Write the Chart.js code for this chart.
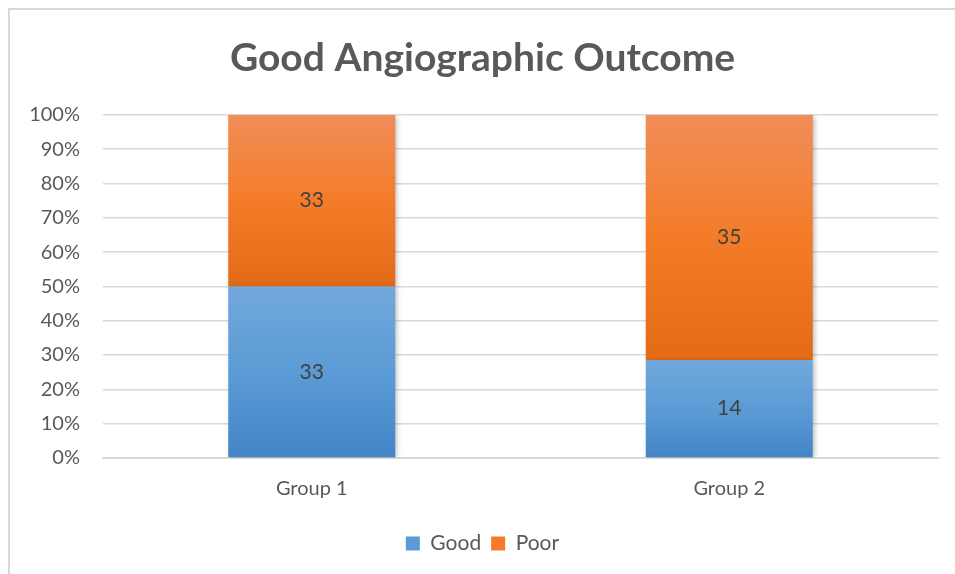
<!DOCTYPE html>
<html>
<head>
<meta charset="utf-8">
<script src="https://cdn.jsdelivr.net/npm/chart.js@4.4.1/dist/chart.umd.min.js"></script>
<style>
  html, body { margin: 0; padding: 0; background: #fff; }
  .frame {
    position: absolute; left: 8px; top: 8px;
    width: 945px; height: 564px;
    border-top: 2px solid #d9d9d9; border-left: 2px solid #d9d9d9;
  }
  canvas { display: block; }
</style>
</head>
<body>
<div class="frame"><canvas id="outcome" width="945" height="564"></canvas></div>
<script>
const categories = ["Group 1", "Group 2"];
const goodCounts = [33, 14];
const poorCounts = [33, 35];

// share of each group, so both bars run to 100%
const goodPct = goodCounts.map((g, i) => g / (g + poorCounts[i]) * 100);
const poorPct = poorCounts.map((p, i) => p / (goodCounts[i] + p) * 100);

const blueStops = ["#72a8dc", "#5b9bd5", "#4384c7"];
const orangeStops = ["#f08d59", "#f47c28", "#e36a16"];

const textGray = "#595959";
const font = "Lato, 'Open Sans', sans-serif";

// each segment gets its own top-to-bottom gradient
function segmentFill(stops, lower) {
  return function (ctx) {
    const chart = ctx.chart;
    const y = chart.scales.y;
    if (!y || ctx.dataIndex == null) return stops[1];
    const i = ctx.dataIndex;
    const top = y.getPixelForValue(lower ? goodPct[i] : 100);
    const bottom = y.getPixelForValue(lower ? 0 : goodPct[i]);
    if (!isFinite(top) || !isFinite(bottom) || top === bottom) return stops[1];
    const g = chart.ctx.createLinearGradient(0, top, 0, bottom);
    g.addColorStop(0, stops[0]);
    g.addColorStop(0.5, stops[1]);
    g.addColorStop(1, stops[2]);
    return g;
  };
}

const barShadow = {
  id: "barShadow",
  beforeDatasetsDraw(chart) {
    const c = chart.ctx;
    c.save();
    c.shadowColor = "rgba(0,0,0,0.28)";
    c.shadowBlur = 5;
    c.shadowOffsetX = 2;
    c.shadowOffsetY = 1;
  },
  afterDatasetsDraw(chart) {
    chart.ctx.restore();
  }
};

// counts written in the middle of each segment
const countLabels = {
  id: "countLabels",
  afterDraw(chart) {
    const c = chart.ctx;
    c.save();
    c.font = "21px " + font;
    c.fillStyle = "#404040";
    c.textAlign = "center";
    c.textBaseline = "middle";
    chart.data.datasets.forEach((ds, d) => {
      chart.getDatasetMeta(d).data.forEach((bar, i) => {
        const p = bar.getCenterPoint();
        c.fillText(String(ds.counts[i]), p.x, p.y);
      });
    });
    c.restore();
  }
};

new Chart(document.getElementById("outcome"), {
  type: "bar",
  data: {
    labels: categories,
    datasets: [
      {
        label: "Good",
        data: goodPct,
        counts: goodCounts,
        backgroundColor: segmentFill(blueStops, true),
        legendColor: blueStops[1],
        borderWidth: 0
      },
      {
        label: "Poor",
        data: poorPct,
        counts: poorCounts,
        backgroundColor: segmentFill(orangeStops, false),
        legendColor: orangeStops[1],
        borderWidth: 0
      }
    ]
  },
  options: {
    responsive: false,
    animation: false,
    layout: { padding: { top: 0, right: 17, bottom: 10, left: 17 } },
    datasets: { bar: { categoryPercentage: 1, barPercentage: 0.4 } },
    scales: {
      x: {
        stacked: true,
        grid: { display: false },
        border: { display: true, color: "#d9d9d9", width: 2 },
        ticks: { color: textGray, font: { family: font, size: 20 }, padding: 11 },
        afterFit(scale) { scale.height = 65; }
      },
      y: {
        stacked: true,
        min: 0,
        max: 100,
        grid: { color: "#d9d9d9", lineWidth: 1.5, drawTicks: false },
        border: { display: false },
        ticks: {
          stepSize: 10,
          color: textGray,
          font: { family: font, size: 20 },
          padding: 23,
          callback: v => v + "%"
        },
        afterFit(scale) { scale.width = 76; }
      }
    },
    plugins: {
      title: {
        display: true,
        text: "Good Angiographic Outcome",
        color: textGray,
        font: { family: font, size: 39, weight: "bold" },
        padding: { top: 25, bottom: 33 }
      },
      legend: {
        position: "bottom",
        labels: {
          color: textGray,
          font: { family: font, size: 21 },
          boxWidth: 14,
          boxHeight: 14,
          padding: 10,
          generateLabels(chart) {
            return chart.data.datasets.map((ds, i) => ({
              text: ds.label,
              fillStyle: ds.legendColor,
              strokeStyle: ds.legendColor,
              lineWidth: 0,
              fontColor: textGray,
              datasetIndex: i
            }));
          }
        }
      },
      tooltip: { enabled: false }
    }
  },
  plugins: [barShadow, countLabels]
});
</script>
</body>
</html>
